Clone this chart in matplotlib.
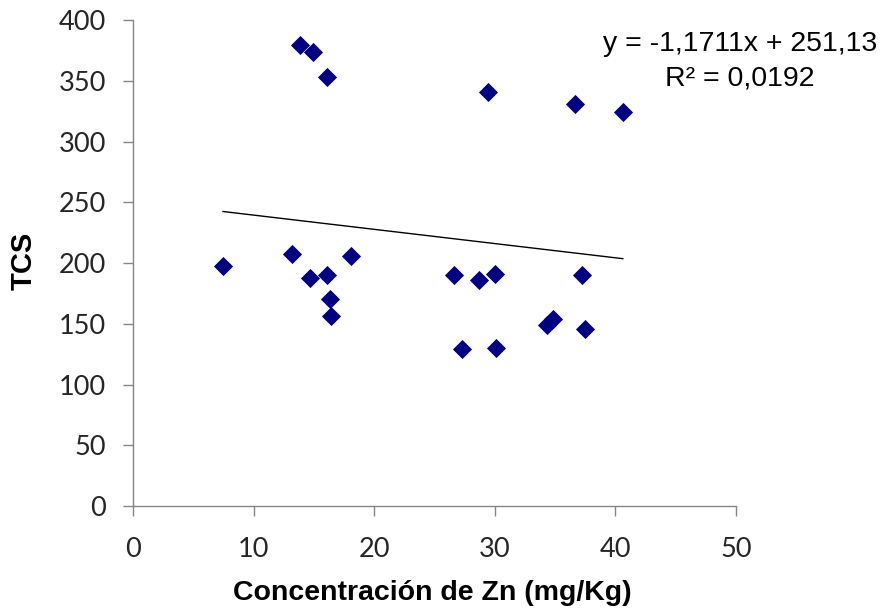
"""
Dispersión TCS vs concentración de Zn, con línea de tendencia lineal.
"""

import matplotlib.pyplot as plt
import numpy as np

# valores
zn = [7.46, 13.87, 14.93, 16.11, 13.18, 14.70, 16.11, 16.33, 16.44, 18.08,
      26.59, 27.31, 28.71, 30.02, 30.12, 29.44, 34.30, 34.80, 37.48, 37.26,
      36.65, 40.61]
tcs = [197.5, 379.2, 373.7, 353.1, 207.4, 187.4, 189.9, 170.6, 156.1, 206.0,
       189.9, 129.0, 186.3, 190.9, 130.3, 340.5, 149.0, 153.7, 145.4, 189.9,
       330.6, 324.5]

# coeficientes de la tendencia mostrados en la figura
pendiente = -1.1711
intercepto = 251.13
r2 = 0.0192

x_ticks = [0, 10, 20, 30, 40, 50]
y_ticks = [0, 50, 100, 150, 200, 250, 300, 350, 400]

GRIS = "#868686"

fig = plt.figure(figsize=(8.94, 6.12), dpi=100)
ax = fig.add_axes([0.1488, 0.1732, 0.6745, 0.7941])

ax.scatter(zn, tcs, marker="D", s=95, color="#000080", zorder=3,
           linewidths=0)

x_lin = np.array([min(zn), max(zn)])
ax.plot(x_lin, pendiente * x_lin + intercepto, color="black", lw=1.0, zorder=2)

ax.set_xlim(0, 50)
ax.set_ylim(0, 400)
ax.set_xticks(x_ticks)
ax.set_yticks(y_ticks)

for lado in ("top", "right"):
    ax.spines[lado].set_visible(False)
for lado in ("left", "bottom"):
    ax.spines[lado].set_color(GRIS)
    ax.spines[lado].set_linewidth(1.0)

ax.tick_params(axis="both", direction="out", length=7.5, width=1.0,
               color=GRIS, labelsize=19.5, labelcolor="#262626", pad=12)
ax.tick_params(axis="x", pad=15)
for lbl in ax.get_xticklabels() + ax.get_yticklabels():
    lbl.set_family("Lato")

ax.set_xlabel("Concentración de Zn (mg/Kg)", fontsize=20.5, fontweight="bold",
              family="Liberation Sans")
ax.set_ylabel("TCS", fontsize=21, fontweight="bold", family="Liberation Sans")
ax.xaxis.set_label_coords(0.497, -0.153)
ax.yaxis.set_label_coords(-0.159, 0.505)

eq = f"y = {pendiente:.4f}x + {intercepto:.2f}".replace(".", ",")
eq += "\n" + f"R² = {r2:.4f}".replace(".", ",")
fig.text(0.828, 0.9, eq, ha="center", va="center", fontsize=20.5,
         family="Liberation Sans", linespacing=1.4, color="black")

fig.savefig("out.png", dpi=100)
